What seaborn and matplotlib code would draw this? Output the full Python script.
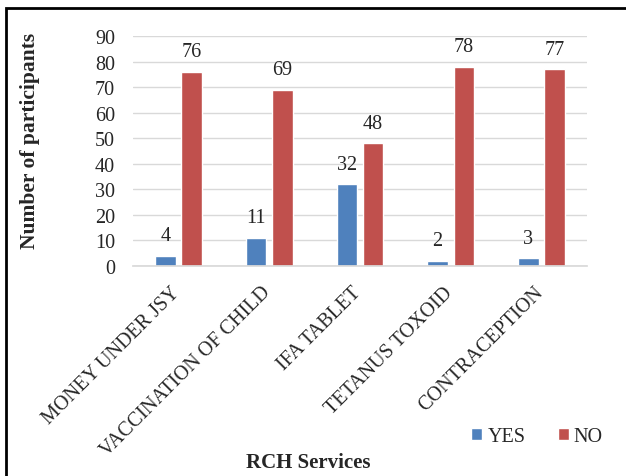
import matplotlib
matplotlib.use("Agg")
import matplotlib.pyplot as plt
import seaborn as sns
import pandas as pd
from matplotlib.patches import Rectangle
from matplotlib.transforms import ScaledTranslation

categories = ["MONEY UNDER JSY", "VACCINATION OF CHILD", "IFA TABLET", "TETANUS TOXOID", "CONTRACEPTION"]
yes_values = [4, 11, 32, 2, 3]
no_values = [76, 69, 48, 78, 77]
series = ["YES", "NO"]
colors = ["#4F81BD", "#C0504D"]

sns.set_theme(style="white")
plt.rcParams['font.family'] = ['Liberation Serif', 'DejaVu Serif']

df = pd.DataFrame({
    "cat": categories * 2,
    "val": yes_values + no_values,
    "ser": ["YES"] * len(categories) + ["NO"] * len(categories),
})

FS = 14.5

fig = plt.figure(figsize=(6.26, 4.77), dpi=100)
ax = fig.add_axes([133/626, 1 - 267/477, (587-133)/626, (267-37)/477])

sns.barplot(data=df, x="cat", y="val", hue="ser", hue_order=series,
            palette=colors, width=0.58, gap=0.22, ax=ax, errorbar=None,
            saturation=1)

ax.set_ylim(0, 90)
ax.set_yticks(range(0, 91, 10))
ax.yaxis.grid(True, color="#D9D9D9", linewidth=1)
ax.set_axisbelow(True)
for s in ["top", "right", "left"]:
    ax.spines[s].set_visible(False)
ax.spines["bottom"].set_color("#D9D9D9")
ax.tick_params(axis="y", labelsize=FS, length=0, pad=13)
ax.tick_params(axis="x", labelsize=FS, length=0, pad=12)
plt.setp(ax.get_xticklabels(), rotation=45, ha="right", rotation_mode="anchor")
shift = ScaledTranslation(-8/100, 0, fig.dpi_scale_trans)
for lbl in ax.get_xticklabels():
    lbl.set_transform(lbl.get_transform() + shift)

for c in ax.containers:
    ax.bar_label(c, fontsize=FS, padding=7.5)

ax.set_xlabel("")
fig.text(308/626, 1 - 463/477, "RCH Services", fontsize=15, fontweight="bold",
         ha="center", va="center")
ax.set_ylabel("")
fig.text(30/626, 1 - 141/477, "Number of participants", fontsize=15.5,
         fontweight="bold", rotation=90, ha="center", va="center")

leg = ax.legend(loc="center", bbox_to_anchor=(537/626, 1 - 438/477),
                bbox_transform=fig.transFigure, ncol=2, frameon=False,
                fontsize=FS, handlelength=0.55, handleheight=0.55,
                handletextpad=0.25, columnspacing=1.6)

fig.patches.append(Rectangle((6/626, -0.01), 1, 1.01 - 9/477, transform=fig.transFigure,
                             fill=False, edgecolor="black", linewidth=2))

fig.savefig("out.png", dpi=100)
